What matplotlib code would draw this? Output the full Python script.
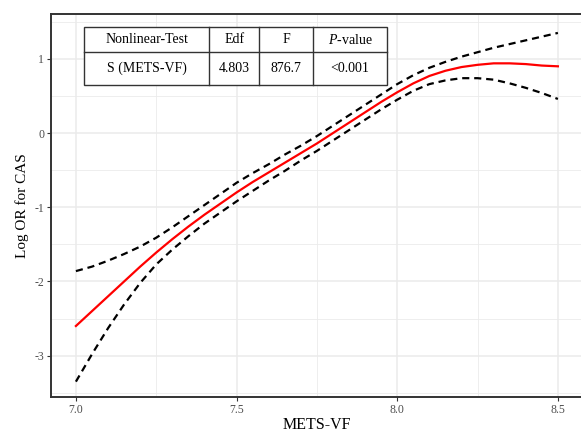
import matplotlib
matplotlib.use("Agg")
import matplotlib.pyplot as plt
from matplotlib.lines import Line2D
from matplotlib.patches import Rectangle

plt.rcParams['font.family'] = ['Liberation Serif', 'DejaVu Serif']
plt.rcParams['axes.unicode_minus'] = False
plt.rcParams['mathtext.fontset'] = 'custom'
plt.rcParams['mathtext.rm'] = 'Liberation Serif'
plt.rcParams['mathtext.it'] = 'Liberation Serif:italic'

# ---- data ----
mets_vf = [7.00, 7.05, 7.10, 7.15, 7.20, 7.25, 7.30, 7.35, 7.40, 7.45, 7.50,
           7.55, 7.60, 7.65, 7.70, 7.75, 7.80, 7.85, 7.90, 7.95, 8.00,
           8.05, 8.10, 8.15, 8.20, 8.25, 8.30, 8.35, 8.40, 8.45, 8.50]
log_or = [-2.60, -2.40, -2.20, -2.00, -1.80, -1.61, -1.43, -1.26, -1.10, -0.95, -0.80,
          -0.66, -0.53, -0.40, -0.27, -0.14, 0.00, 0.14, 0.28, 0.42, 0.55,
          0.67, 0.77, 0.84, 0.89, 0.92, 0.94, 0.94, 0.93, 0.91, 0.90]
upper_ci = [-1.86, -1.80, -1.72, -1.63, -1.53, -1.41, -1.27, -1.12, -0.97, -0.82, -0.67,
            -0.54, -0.42, -0.29, -0.17, -0.04, 0.10, 0.24, 0.38, 0.52, 0.66,
            0.78, 0.88, 0.96, 1.03, 1.09, 1.15, 1.20, 1.25, 1.30, 1.35]
lower_ci = [-3.35, -2.98, -2.63, -2.31, -2.02, -1.77, -1.57, -1.39, -1.22, -1.07, -0.92,
            -0.78, -0.64, -0.51, -0.37, -0.24, -0.10, 0.04, 0.18, 0.32, 0.45,
            0.57, 0.66, 0.71, 0.74, 0.74, 0.72, 0.67, 0.61, 0.54, 0.46]

x_ticks = [7.0, 7.5, 8.0, 8.5]
x_tick_labels = ["7.0", "7.5", "8.0", "8.5"]
y_ticks = [-3, -2, -1, 0, 1]
y_tick_labels = ["-3", "-2", "-1", "0", "1"]

table_header = ["Nonlinear-Test", "Edf", "F", r"$\it{P}$-value"]
table_row = ["S (METS-VF)", "4.803", "876.7", "<0.001"]

# ---- figure ----
fig = plt.figure(figsize=(5.81, 4.32), dpi=100)
W, H = 581, 432
left, right, top, bottom = 51, 582, 14, 397
ax = fig.add_axes([left / W, 1 - bottom / H, (right - left) / W, (bottom - top) / H])

ax.set_xlim(6.9225, 8.575)
ax.set_ylim(-3.557, 1.605)

grid_col = '#EBEBEB'
ax.set_xticks(x_ticks)
ax.set_xticklabels(x_tick_labels)
ax.set_yticks(y_ticks)
ax.set_yticklabels(y_tick_labels)
ax.set_xticks([7.25, 7.75, 8.25], minor=True)
ax.set_yticks([-3.5, -2.5, -1.5, -0.5, 0.5, 1.5], minor=True)
ax.grid(True, which='major', color=grid_col, linewidth=1.1, zorder=0)
ax.grid(True, which='minor', color=grid_col, linewidth=0.6, zorder=0)
ax.set_axisbelow(True)
ax.tick_params(which='major', length=3, width=0.8, color='#333333',
               labelsize=8.5, labelcolor='#4D4D4D', pad=2)
ax.tick_params(which='minor', length=0)
for s in ax.spines.values():
    s.set_color('#333333')
    s.set_linewidth(1.4)

ax.plot(mets_vf, upper_ci, color='black', lw=1.6, linestyle=(0, (3.2, 2.2)), zorder=3)
ax.plot(mets_vf, lower_ci, color='black', lw=1.6, linestyle=(0, (3.2, 2.2)), zorder=3)
ax.plot(mets_vf, log_or, color='#FF0000', lw=1.6, zorder=4)

ax.set_xlabel("METS-VF", fontsize=11.5, labelpad=1)
ax.set_ylabel("Log OR for CAS", fontsize=11, labelpad=4)

# ---- table ----
tx0, tx1 = (84 - left) / (right - left), (386.7 - left) / (right - left)
ty1, ty0 = (bottom - 26.7) / (bottom - top), (bottom - 85) / (bottom - top)
tmid = (bottom - 52.3) / (bottom - top)
col_px = [84, 209.3, 259, 313.3, 386.7]
col_ax = [(c - left) / (right - left) for c in col_px]

ax.add_patch(Rectangle((tx0, ty0), tx1 - tx0, ty1 - ty0, transform=ax.transAxes,
                       facecolor='white', edgecolor='#333333', lw=1.0, zorder=5))
ax.add_line(Line2D([tx0, tx1], [tmid, tmid], transform=ax.transAxes,
                   color='#333333', lw=1.0, zorder=6))
for c in col_ax[1:-1]:
    ax.add_line(Line2D([c, c], [ty0, ty1], transform=ax.transAxes,
                       color='#333333', lw=1.0, zorder=6))
for i in range(4):
    cx = (col_ax[i] + col_ax[i + 1]) / 2
    ax.text(cx, (ty1 + tmid) / 2, table_header[i], transform=ax.transAxes,
            ha='center', va='center', fontsize=10, zorder=7)
    ax.text(cx, (tmid + ty0) / 2, table_row[i], transform=ax.transAxes,
            ha='center', va='center', fontsize=10, zorder=7)

fig.savefig("out.png", dpi=100)
